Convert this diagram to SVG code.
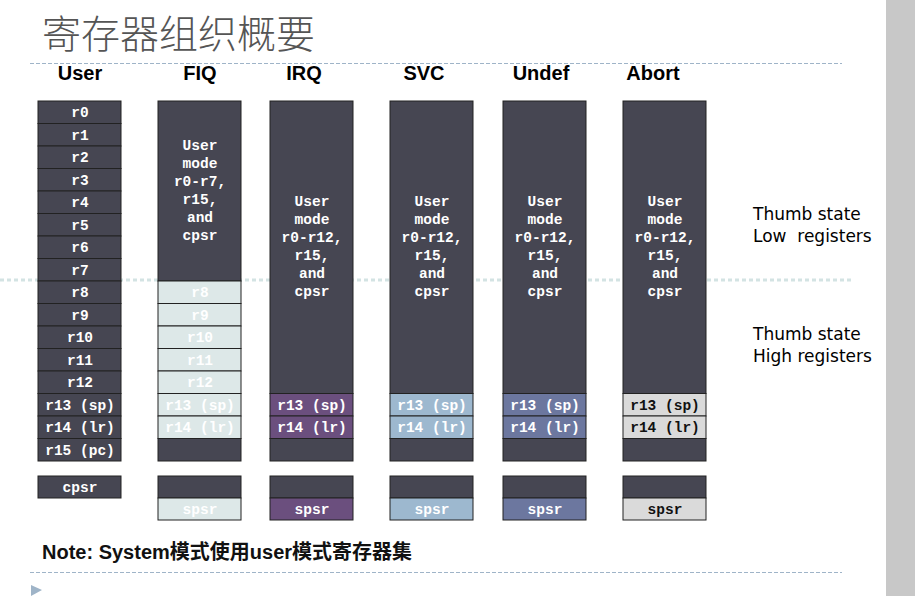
<svg xmlns="http://www.w3.org/2000/svg" width="915" height="596" viewBox="0 0 915 596">
<style>
.dk{fill:#464652;stroke:#222;stroke-width:1}
.fq{fill:#dde8e8;stroke:#222;stroke-width:1}
.iq{fill:#6b4f7e;stroke:#222;stroke-width:1}
.sv{fill:#9db8cf;stroke:#222;stroke-width:1}
.ud{fill:#6c779f;stroke:#222;stroke-width:1}
.ab{fill:#dadada;stroke:#222;stroke-width:1}
.t{font-family:"Liberation Mono","Courier New",monospace;font-weight:bold;font-size:14.5px;fill:#fff;text-anchor:middle}
.tb{fill:#111}
.h{font-family:"Liberation Sans",Arial,sans-serif;font-weight:bold;font-size:20px;fill:#000;text-anchor:middle}
.th{font-family:"DejaVu Sans",sans-serif;font-size:17px;fill:#000}
</style>
<rect x="0" y="0" width="915" height="596" fill="#fff"/>
<rect x="886" y="0" width="29" height="596" fill="#c8c8c8"/>
<text x="42" y="48" font-family="'Noto Sans CJK SC',sans-serif" font-weight="300" font-size="39" fill="#555">寄存器组织概要</text>
<line x1="30" y1="63.5" x2="842" y2="63.5" stroke="#9fb4c8" stroke-dasharray="4,2"/>
<line x1="30" y1="572.5" x2="842" y2="572.5" stroke="#9fb4c8" stroke-dasharray="4,2"/>
<polygon points="31,585 42,590 31,596" fill="#9fb4c8"/>
<line x1="0" y1="280" x2="852" y2="280" stroke="#d3e3e3" stroke-width="3" stroke-dasharray="4,3"/>
<g id="headers">
<text class="h" x="80" y="80">User</text>
<text class="h" x="200" y="80">FIQ</text>
<text class="h" x="304" y="80">IRQ</text>
<text class="h" x="424" y="80">SVC</text>
<text class="h" x="541" y="80">Undef</text>
<text class="h" x="653" y="80">Abort</text>
</g>
<g id="user">
<rect class="dk" x="38" y="101" width="83" height="22.5"/><text class="t" x="80" y="117">r0</text>
<rect class="dk" x="38" y="123.5" width="83" height="22.5"/><text class="t" x="80" y="139.5">r1</text>
<rect class="dk" x="38" y="146" width="83" height="22.5"/><text class="t" x="80" y="162">r2</text>
<rect class="dk" x="38" y="168.5" width="83" height="22.5"/><text class="t" x="80" y="184.5">r3</text>
<rect class="dk" x="38" y="191" width="83" height="22.5"/><text class="t" x="80" y="207">r4</text>
<rect class="dk" x="38" y="213.5" width="83" height="22.5"/><text class="t" x="80" y="229.5">r5</text>
<rect class="dk" x="38" y="236" width="83" height="22.5"/><text class="t" x="80" y="252">r6</text>
<rect class="dk" x="38" y="258.5" width="83" height="22.5"/><text class="t" x="80" y="274.5">r7</text>
<rect class="dk" x="38" y="281" width="83" height="22.5"/><text class="t" x="80" y="297">r8</text>
<rect class="dk" x="38" y="303.5" width="83" height="22.5"/><text class="t" x="80" y="319.5">r9</text>
<rect class="dk" x="38" y="326" width="83" height="22.5"/><text class="t" x="80" y="342">r10</text>
<rect class="dk" x="38" y="348.5" width="83" height="22.5"/><text class="t" x="80" y="364.5">r11</text>
<rect class="dk" x="38" y="371" width="83" height="22.5"/><text class="t" x="80" y="387">r12</text>
<rect class="dk" x="38" y="393.5" width="83" height="22.5"/><text class="t" x="80" y="409.5">r13 (sp)</text>
<rect class="dk" x="38" y="416" width="83" height="22.5"/><text class="t" x="80" y="432">r14 (lr)</text>
<rect class="dk" x="38" y="438.5" width="83" height="22.5"/><text class="t" x="80" y="454.5">r15 (pc)</text>
<rect class="dk" x="38" y="476" width="83" height="22"/><text class="t" x="80" y="492">cpsr</text>
</g>
<g id="fiq">
<rect class="dk" x="158" y="101" width="83" height="180"/>
<text class="t" x="200" y="150">User</text><text class="t" x="200" y="168">mode</text><text class="t" x="200" y="186">r0-r7,</text><text class="t" x="200" y="204">r15,</text><text class="t" x="200" y="222">and</text><text class="t" x="200" y="240">cpsr</text>
<rect class="fq" x="158" y="281" width="83" height="22.5"/><text class="t" x="200" y="297">r8</text>
<rect class="fq" x="158" y="303.5" width="83" height="22.5"/><text class="t" x="200" y="319.5">r9</text>
<rect class="fq" x="158" y="326" width="83" height="22.5"/><text class="t" x="200" y="342">r10</text>
<rect class="fq" x="158" y="348.5" width="83" height="22.5"/><text class="t" x="200" y="364.5">r11</text>
<rect class="fq" x="158" y="371" width="83" height="22.5"/><text class="t" x="200" y="387">r12</text>
<rect class="fq" x="158" y="393.5" width="83" height="22.5"/><text class="t" x="200" y="409.5">r13 (sp)</text>
<rect class="fq" x="158" y="416" width="83" height="22.5"/><text class="t" x="200" y="432">r14 (lr)</text>
<rect class="dk" x="158" y="438.5" width="83" height="22.5"/>
<rect class="dk" x="158" y="476" width="83" height="22"/>
<rect class="fq" x="158" y="498" width="83" height="22"/><text class="t" x="200" y="514">spsr</text>
</g>
<g id="irq">
<rect class="dk" x="270" y="101" width="83" height="292.5"/>
<text class="t" x="312" y="206">User</text><text class="t" x="312" y="224">mode</text><text class="t" x="312" y="242">r0-r12,</text><text class="t" x="312" y="260">r15,</text><text class="t" x="312" y="278">and</text><text class="t" x="312" y="296">cpsr</text>
<rect class="iq" x="270" y="393.5" width="83" height="22.5"/><text class="t" x="312" y="409.5">r13 (sp)</text>
<rect class="iq" x="270" y="416" width="83" height="22.5"/><text class="t" x="312" y="432">r14 (lr)</text>
<rect class="dk" x="270" y="438.5" width="83" height="22.5"/>
<rect class="dk" x="270" y="476" width="83" height="22"/>
<rect class="iq" x="270" y="498" width="83" height="22"/><text class="t" x="312" y="514">spsr</text>
</g>
<g id="svc">
<rect class="dk" x="390" y="101" width="83" height="292.5"/>
<text class="t" x="432" y="206">User</text><text class="t" x="432" y="224">mode</text><text class="t" x="432" y="242">r0-r12,</text><text class="t" x="432" y="260">r15,</text><text class="t" x="432" y="278">and</text><text class="t" x="432" y="296">cpsr</text>
<rect class="sv" x="390" y="393.5" width="83" height="22.5"/><text class="t" x="432" y="409.5">r13 (sp)</text>
<rect class="sv" x="390" y="416" width="83" height="22.5"/><text class="t" x="432" y="432">r14 (lr)</text>
<rect class="dk" x="390" y="438.5" width="83" height="22.5"/>
<rect class="dk" x="390" y="476" width="83" height="22"/>
<rect class="sv" x="390" y="498" width="83" height="22"/><text class="t" x="432" y="514">spsr</text>
</g>
<g id="undef">
<rect class="dk" x="503" y="101" width="83" height="292.5"/>
<text class="t" x="545" y="206">User</text><text class="t" x="545" y="224">mode</text><text class="t" x="545" y="242">r0-r12,</text><text class="t" x="545" y="260">r15,</text><text class="t" x="545" y="278">and</text><text class="t" x="545" y="296">cpsr</text>
<rect class="ud" x="503" y="393.5" width="83" height="22.5"/><text class="t" x="545" y="409.5">r13 (sp)</text>
<rect class="ud" x="503" y="416" width="83" height="22.5"/><text class="t" x="545" y="432">r14 (lr)</text>
<rect class="dk" x="503" y="438.5" width="83" height="22.5"/>
<rect class="dk" x="503" y="476" width="83" height="22"/>
<rect class="ud" x="503" y="498" width="83" height="22"/><text class="t" x="545" y="514">spsr</text>
</g>
<g id="abort">
<rect class="dk" x="623" y="101" width="83" height="292.5"/>
<text class="t" x="665" y="206">User</text><text class="t" x="665" y="224">mode</text><text class="t" x="665" y="242">r0-r12,</text><text class="t" x="665" y="260">r15,</text><text class="t" x="665" y="278">and</text><text class="t" x="665" y="296">cpsr</text>
<rect class="ab" x="623" y="393.5" width="83" height="22.5"/><text class="t tb" x="665" y="409.5">r13 (sp)</text>
<rect class="ab" x="623" y="416" width="83" height="22.5"/><text class="t tb" x="665" y="432">r14 (lr)</text>
<rect class="dk" x="623" y="438.5" width="83" height="22.5"/>
<rect class="dk" x="623" y="476" width="83" height="22"/>
<rect class="ab" x="623" y="498" width="83" height="22"/><text class="t tb" x="665" y="514">spsr</text>
</g>
<g id="thumb">
<text class="th" x="753" y="220">Thumb state</text>
<text class="th" x="753" y="242" xml:space="preserve">Low  registers</text>
<text class="th" x="753" y="340">Thumb state</text>
<text class="th" x="753" y="362">High registers</text>
</g>
<text x="42" y="559" font-family="'Liberation Sans','Noto Sans CJK SC',sans-serif" font-weight="bold" font-size="20" fill="#111">Note: System模式使用user模式寄存器集</text>
</svg>
